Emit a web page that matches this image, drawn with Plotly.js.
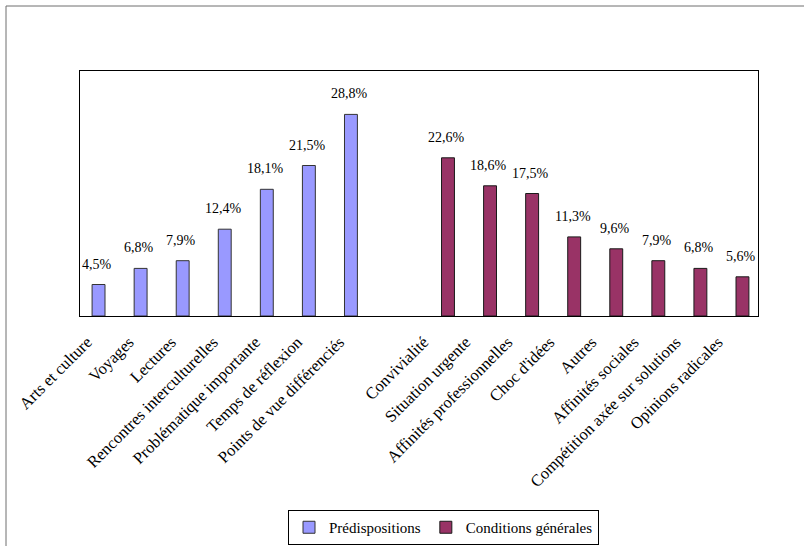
<!DOCTYPE html>
<html>
<head>
<meta charset="utf-8">
<script src="https://cdn.plot.ly/plotly-3.0.1.min.js"></script>
<style>
  html, body { margin: 0; padding: 0; background: #fff; }
  #chart { width: 804px; height: 546px; }
</style>
</head>
<body>
<div id="chart"></div>
<script>
// Category labels (a blank slot separates the two groups)
const categories = [
  "Arts et culture", "Voyages", "Lectures", "Rencontres interculturelles",
  "Problématique importante", "Temps de réflexion", "Points de vue différenciés",
  " ",
  "Convivialité", "Situation urgente", "Affinités professionnelles", "Choc d'idées",
  "Autres", "Affinités sociales", "Compétition axée sur solutions", "Opinions radicales"
];

// Percentages per series (null where the series has no bar)
const predispositions = [4.5, 6.8, 7.9, 12.4, 18.1, 21.5, 28.8,
  null, null, null, null, null, null, null, null, null];
const conditionsGenerales = [null, null, null, null, null, null, null,
  null, 22.6, 18.6, 17.5, 11.3, 9.6, 7.9, 6.8, 5.6];

const seriesNames = ["Prédispositions", "Conditions générales"];

const FONT = "'Liberation Serif', 'Times New Roman', serif";

const fmt = v => v.toFixed(1).replace(".", ",") + "%";

const traces = [
  {
    type: "bar", name: seriesNames[0], x: categories, y: predispositions,
    marker: { color: "#9999FF", line: { color: "#333333", width: 1 } },
    hoverinfo: "skip"
  },
  {
    type: "bar", name: seriesNames[1], x: categories, y: conditionsGenerales,
    marker: { color: "#993366", line: { color: "#1a1a1a", width: 1 } },
    hoverinfo: "skip"
  }
];

// Value labels above each bar
const annotations = [];
[[predispositions, -8], [conditionsGenerales, 5]].forEach(([vals, dx]) => {
  vals.forEach((v, i) => {
    if (v === null) return;
    annotations.push({
      x: categories[i], y: v, xref: "x", yref: "y",
      text: fmt(v), showarrow: false,
      xanchor: "center", yanchor: "bottom",
      xshift: dx, yshift: 11,
      font: { family: FONT, size: 14, color: "#000" }
    });
  });
});

// Outer chart-area frame (left and top edges)
const ml = 80, mr = 46, mt = 71, mb = 230;
const pw = 804 - ml - mr, ph = 546 - mt - mb;
const px = x => (x - ml) / pw;
const py = y => (546 - mb - y) / ph;

const shapes = [
  { type: "line", xref: "paper", yref: "paper",
    x0: px(6), x1: px(6), y0: py(546), y1: py(6),
    line: { color: "#6e6e6e", width: 1 } },
  { type: "line", xref: "paper", yref: "paper",
    x0: px(6), x1: px(804), y0: py(6), y1: py(6),
    line: { color: "#6e6e6e", width: 1 } }
];

const layout = {
  width: 804, height: 546,
  margin: { l: ml, r: mr, t: mt, b: mb, pad: 0, autoexpand: false },
  paper_bgcolor: "#fff", plot_bgcolor: "#fff",
  font: { family: FONT, size: 14, color: "#000" },
  barmode: "group", bargap: 0.386, bargroupgap: 0,
  showlegend: true,
  legend: {
    orientation: "h", x: px(443.5), xanchor: "center",
    y: py(545), yanchor: "bottom",
    bordercolor: "#000", borderwidth: 1, bgcolor: "#fff",
    font: { family: FONT, size: 15, color: "#000" },
    itemwidth: 30, traceorder: "normal"
  },
  xaxis: {
    type: "category", categoryorder: "array", categoryarray: categories,
    tickangle: -45, ticks: "", showgrid: false, automargin: false,
    showline: true, linecolor: "#000", linewidth: 1, mirror: true,
    tickfont: { family: FONT, size: 16.5, color: "#000" },
    ticklabelstandoff: 9, ticklabelshift: -18,
    fixedrange: true
  },
  yaxis: {
    range: [0, 35], showgrid: false, zeroline: false, automargin: false,
    showticklabels: false, ticks: "",
    showline: true, linecolor: "#000", linewidth: 1, mirror: true,
    fixedrange: true
  },
  annotations: annotations,
  shapes: shapes
};

Plotly.newPlot("chart", traces, layout, { displayModeBar: false, staticPlot: true });
</script>
</body>
</html>
